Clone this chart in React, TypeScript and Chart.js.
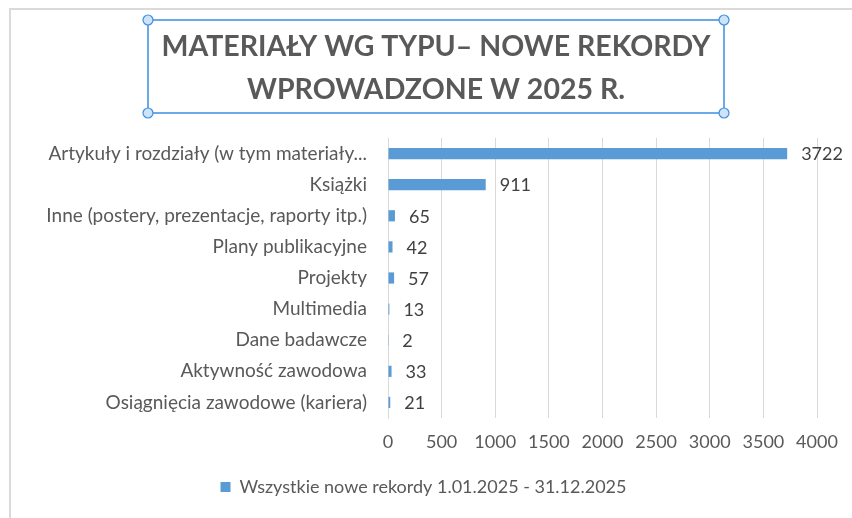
import { useEffect, useRef } from "react";
import { Chart, registerables } from "chart.js";

Chart.register(...registerables);

const categories = [
  "Artykuły i rozdziały (w tym materiały...",
  "Książki",
  "Inne (postery, prezentacje, raporty itp.)",
  "Plany publikacyjne",
  "Projekty",
  "Multimedia",
  "Dane badawcze",
  "Aktywność zawodowa",
  "Osiągnięcia zawodowe (kariera)",
];
const values = [3722, 911, 65, 42, 57, 13, 2, 33, 21];
const seriesLabel = "Wszystkie nowe rekordy 1.01.2025 - 31.12.2025";
const titleLines = ["MATERIAŁY WG TYPU– NOWE REKORDY", "WPROWADZONE W 2025 R."];
const axisMin = 0;
const axisMax = 4000;
const axisStep = 500;

const FONT = "Lato, 'Open Sans', sans-serif";
const TEXT = "#595959";
const BAR = "#5B9BD5";
const GRID = "#D9D9D9";

const framePlugin = {
  id: "frame",
  beforeDraw(chart: any) {
    const { ctx, width, height } = chart;
    ctx.save();
    ctx.fillStyle = "#ffffff";
    ctx.fillRect(0, 0, width, height);
    ctx.strokeStyle = "#DADADA";
    ctx.lineWidth = 2;
    ctx.beginPath();
    ctx.moveTo(10, height + 5);
    ctx.lineTo(10, 9);
    ctx.lineTo(width + 5, 9);
    ctx.stroke();
    ctx.restore();
  },
};

const titleBoxPlugin = {
  id: "titleBox",
  afterDraw(chart: any) {
    const { ctx } = chart;
    const left = 148, right = 724, top = 20, bottom = 113;
    const cx = (left + right) / 2;
    ctx.save();
    ctx.fillStyle = TEXT;
    ctx.font = `bold 28.5px ${FONT}`;
    ctx.textAlign = "center";
    ctx.textBaseline = "middle";
    ctx.fillText(titleLines[0], cx, 47);
    ctx.fillText(titleLines[1], cx, 90);
    ctx.strokeStyle = "#3D8FE0";
    ctx.lineWidth = 1.5;
    ctx.strokeRect(left, top, right - left, bottom - top);
    const pts = [
      [left, top],
      [right, top],
      [left, bottom],
      [right, bottom],
    ];
    for (const [x, y] of pts) {
      ctx.beginPath();
      ctx.arc(x, y, 5, 0, Math.PI * 2);
      ctx.fillStyle = "#CFE3F7";
      ctx.fill();
      ctx.strokeStyle = "#3D8FE0";
      ctx.lineWidth = 1.2;
      ctx.stroke();
    }
    ctx.restore();
  },
};

const dataLabelPlugin = {
  id: "dataLabels",
  afterDatasetsDraw(chart: any) {
    const { ctx } = chart;
    const meta = chart.getDatasetMeta(0);
    ctx.save();
    ctx.fillStyle = "#404040";
    ctx.font = `18px ${FONT}`;
    ctx.textAlign = "left";
    ctx.textBaseline = "middle";
    meta.data.forEach((bar: any, i: number) => {
      ctx.fillText(String(values[i]), bar.x + 14, bar.y + 1);
    });
    ctx.restore();
  },
};

export default function App() {
  const ref = useRef<HTMLCanvasElement | null>(null);
  useEffect(() => {
    if (!ref.current) return;
    const chart = new Chart(ref.current, {
      type: "bar",
      data: {
        labels: categories,
        datasets: [
          {
            label: seriesLabel,
            data: values,
            backgroundColor: BAR,
            borderWidth: 0,
            barPercentage: 0.72,
            categoryPercentage: 0.5,
          },
        ],
      },
      options: {
        indexAxis: "y",
        responsive: false,
        animation: false,
        layout: { padding: { top: 138, left: 30, right: 35, bottom: 12 } },
        plugins: {
          title: { display: false },
          tooltip: { enabled: false },
          legend: {
            position: "bottom",
            labels: {
              boxWidth: 10,
              boxHeight: 10,
              color: TEXT,
              font: { family: FONT, size: 18 },
              padding: 10,
            },
          },
        },
        scales: {
          y: {
            afterFit: (s: any) => {
              s.width = 358;
            },
            grid: { display: false, drawTicks: false },
            border: { display: true, color: GRID },
            ticks: { color: TEXT, font: { family: FONT, size: 19 }, padding: 21 },
          },
          x: {
            min: axisMin,
            max: axisMax,
            afterFit: (s: any) => {
              s.height = 50;
            },
            grid: { color: GRID, drawTicks: false },
            border: { display: false },
            ticks: {
              stepSize: axisStep,
              color: TEXT,
              font: { family: FONT, size: 18 },
              padding: 13,
              callback: (v: any) => String(v),
            },
          },
        },
      },
      plugins: [framePlugin, titleBoxPlugin, dataLabelPlugin],
    } as any);
    return () => chart.destroy();
  }, []);
  return (
    <div style={{ position: "absolute", left: 0, top: 0, width: 852, height: 518 }}>
      <canvas ref={ref} width={852} height={518} style={{ display: "block" }} />
    </div>
  );
}
